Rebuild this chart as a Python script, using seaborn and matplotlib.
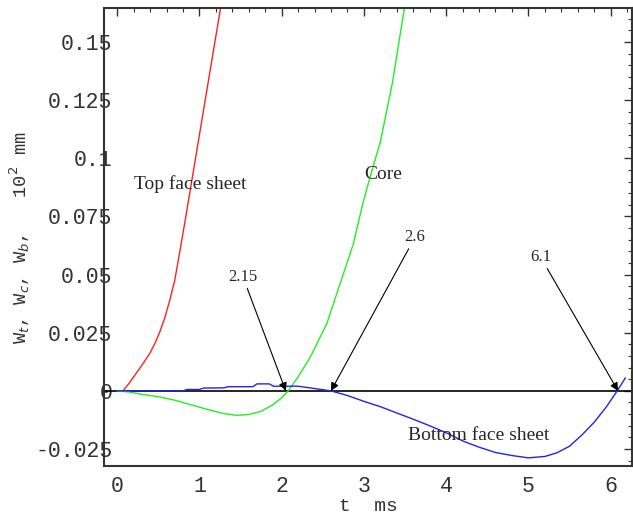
import matplotlib
matplotlib.use("Agg")
import matplotlib.pyplot as plt
import seaborn as sns
import pandas as pd
from matplotlib.ticker import MultipleLocator, FixedLocator, FixedFormatter

# ---- data ----
t_top = [0.0, 0.07, 0.14, 0.2, 0.26, 0.32, 0.4, 0.46, 0.52, 0.58, 0.64, 0.7, 0.76,
         0.84, 0.92, 1.0, 1.08, 1.16, 1.25, 1.35]
w_top = [0.0, 0.0, 0.003, 0.006, 0.009, 0.012, 0.0163, 0.0205, 0.0255, 0.0315, 0.039,
         0.0475, 0.0595, 0.076, 0.093, 0.11, 0.127, 0.144, 0.163, 0.185]

t_core = [0.0, 0.15, 0.3, 0.5, 0.7, 0.9, 1.1, 1.3, 1.45, 1.6, 1.75, 1.9, 2.0, 2.08,
          2.2, 2.35, 2.55, 2.71, 2.87, 2.99, 3.1, 3.2, 3.35, 3.49, 3.6]
w_core = [0.0, -0.0005, -0.0015, -0.0025, -0.004, -0.006, -0.008, -0.0098, -0.0105,
          -0.0102, -0.0088, -0.0058, -0.003, 0.0, 0.006, 0.0146, 0.029, 0.046, 0.063,
          0.081, 0.095, 0.107, 0.133, 0.164, 0.19]

t_bot = [0.0, 0.3, 0.6, 0.8, 0.85, 1.0, 1.05, 1.3, 1.35, 1.65, 1.7, 1.85, 1.9, 2.2,
         2.4, 2.6, 2.8, 3.0, 3.2, 3.4, 3.6, 3.8, 4.0, 4.2, 4.4, 4.6, 4.8, 5.0, 5.2,
         5.35, 5.5, 5.65, 5.8, 5.95, 6.08, 6.18]
w_bot = [0.0, 0.0, 0.0, 0.0, 0.0006, 0.0006, 0.0012, 0.0013, 0.0018, 0.0018, 0.003,
         0.003, 0.002, 0.002, 0.001, 0.0, -0.002, -0.0045, -0.0068, -0.0095, -0.0122,
         -0.015, -0.018, -0.0215, -0.0242, -0.0265, -0.0278, -0.0288, -0.0282,
         -0.0266, -0.0238, -0.019, -0.0135, -0.0068, 0.0, 0.0056]

y_ticks = [-0.025, 0, 0.025, 0.05, 0.075, 0.1, 0.125, 0.15]
y_tick_labels = ["-0.025", "0", "0.025", "0.05", "0.075", "0.1", "0.125", "0.15"]
x_ticks = [0, 1, 2, 3, 4, 5, 6]
x_tick_labels = ["0", "1", "2", "3", "4", "5", "6"]

arrow_labels = ["2.15", "2.6", "6.1"]
arrow_tips = [2.05, 2.6, 6.09]
arrow_text_t = [1.53, 3.62, 5.15]
arrow_text_w = [0.0455, 0.0625, 0.054]

# ---- plot ----
sns.set_style("white")
plt.rcParams["axes.unicode_minus"] = False

fig = plt.figure(figsize=(6.33, 5.14), dpi=100)
ax = fig.add_axes([104 / 633, 1 - 466 / 514, (632 - 104) / 633, (466 - 8) / 514])

ax.axhline(0, color="black", lw=1.2, zorder=1)

sns.lineplot(x=t_top, y=w_top, color="#ff2020", lw=1.0, ax=ax, sort=False, zorder=2)
sns.lineplot(x=t_core, y=w_core, color="#22ee22", lw=1.0, ax=ax, sort=False, zorder=2)
sns.lineplot(x=t_bot, y=w_bot, color="#2222ee", lw=1.0, ax=ax, sort=False, zorder=3)

ax.set_xlim(-0.16, 6.26)
ax.set_ylim(-0.0323, 0.1646)

ax.xaxis.set_major_locator(FixedLocator(x_ticks))
ax.xaxis.set_major_formatter(FixedFormatter(x_tick_labels))
ax.yaxis.set_major_locator(FixedLocator(y_ticks))
ax.yaxis.set_major_formatter(FixedFormatter(y_tick_labels))
ax.xaxis.set_minor_locator(MultipleLocator(0.2))
ax.yaxis.set_minor_locator(MultipleLocator(0.005))

ax.tick_params(axis="both", which="both", direction="in", top=True, right=True,
               colors="#333333")
ax.tick_params(axis="both", which="major", length=6, width=1.0)
ax.tick_params(axis="both", which="minor", length=3, width=0.8)
ax.tick_params(axis="y", which="major", pad=-6)
ax.tick_params(axis="x", which="major", pad=7)
for lab in ax.get_xticklabels() + ax.get_yticklabels():
    lab.set_fontfamily("Liberation Mono")
    lab.set_fontsize(15.5)
    lab.set_color("#333333")

for s in ax.spines.values():
    s.set_color("#333333")
    s.set_linewidth(1.5)

ax.set_xlabel("t  ms", fontfamily="Liberation Mono", fontsize=14, color="#333333",
              labelpad=1)
ax.set_ylabel("W$_t$, W$_c$, W$_b$,   10$^2$ mm", fontfamily="Liberation Mono",
              fontsize=13.5, color="#333333", labelpad=2)

serif = "Liberation Serif"
ax.text(0.89, 0.089, "Top face sheet", fontfamily=serif, fontsize=14,
        ha="center", va="center")
ax.text(3.23, 0.093, "Core", fontfamily=serif, fontsize=14, ha="center", va="center")
ax.text(4.4, -0.019, "Bottom face sheet", fontfamily=serif, fontsize=14,
        ha="center", va="center")

for lab, tip, tt, tw in zip(arrow_labels, arrow_tips, arrow_text_t, arrow_text_w):
    ax.annotate(lab, xy=(tip, 0), xytext=(tt, tw), fontfamily=serif, fontsize=12,
                ha="center", va="bottom",
                arrowprops=dict(arrowstyle="-|>", color="black", lw=0.8,
                                mutation_scale=12, shrinkA=0, shrinkB=0),
                zorder=5)

fig.savefig("out.png", dpi=100)
